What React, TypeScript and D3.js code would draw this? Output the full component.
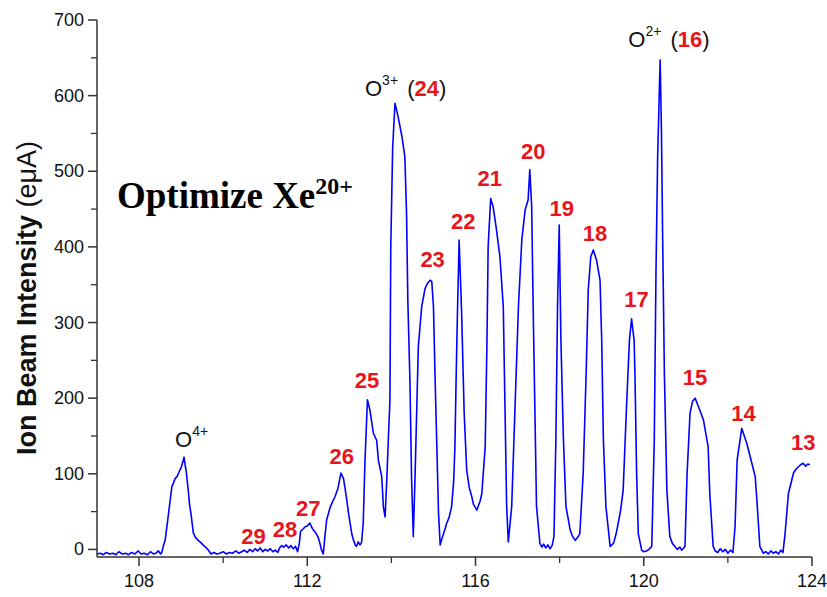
import React from 'react';
import * as d3 from 'd3';

// Beam current scan: [analyzer setting, ion beam intensity (eμA)]
const trace: [number, number][] = [
  [107.0, -6], [107.08, -5], [107.15, -7], [107.22, -4], [107.3, -6], [107.38, -5], [107.45, -7],
  [107.52, -3], [107.6, -6], [107.68, -5], [107.75, -7], [107.82, -4], [107.9, -6], [107.98, -2],
  [108.05, -6], [108.12, -5], [108.2, -7], [108.27, -3], [108.34, -6], [108.4, -5], [108.46, -2],
  [108.51, -6], [108.54, -4],
  // O4+
  [108.58, 5], [108.62, 12], [108.68, 38], [108.74, 65], [108.78, 83], [108.82, 88], [108.86, 94],
  [108.9, 96], [108.94, 101], [108.97, 105], [109.0, 108], [109.03, 114], [109.07, 122], [109.1, 110],
  [109.12, 104], [109.17, 78], [109.2, 60], [109.24, 45], [109.29, 22], [109.34, 16], [109.41, 12],
  [109.47, 9], [109.52, 6], [109.58, 3], [109.65, -1], [109.71, -6],
  [109.78, -4], [109.85, -6], [109.92, -5], [110.0, -3], [110.08, -6], [110.15, -4], [110.22, -5],
  [110.3, -2], [110.37, -5], [110.44, -3], [110.5, -1], [110.57, -4], [110.63, 0], [110.7, -3],
  [110.76, 1], [110.82, -2], [110.88, 2], [110.94, -3], [111.0, 0], [111.06, -2], [111.12, 1],
  [111.18, -3], [111.24, -1], [111.3, -4],
  // 28, 27, 26, 25
  [111.34, 2], [111.39, 5], [111.44, 3], [111.5, 6], [111.56, 2], [111.61, 5], [111.67, 1],
  [111.72, 4], [111.77, -3],
  [111.81, 8], [111.84, 24], [111.9, 27], [111.95, 30], [112.0, 31], [112.06, 35], [112.1, 30],
  [112.14, 26], [112.2, 22], [112.26, 16], [112.3, 8], [112.34, -1], [112.38, -6],
  [112.42, 18], [112.46, 39], [112.54, 55], [112.6, 63], [112.66, 70], [112.73, 81], [112.8, 101],
  [112.86, 94], [112.9, 80], [112.94, 65], [112.98, 48], [113.02, 34], [113.06, 20], [113.1, 12],
  [113.14, 6], [113.17, 4], [113.21, 10], [113.25, 6], [113.29, 9],
  [113.33, 35], [113.37, 114], [113.43, 198], [113.49, 184], [113.57, 154], [113.65, 144],
  [113.69, 118], [113.77, 96], [113.81, 56], [113.85, 43],
  // O3+ (24)
  [113.89, 92], [113.93, 150], [113.965, 197], [113.985, 400], [114.03, 532], [114.085, 590],
  [114.16, 572], [114.25, 546], [114.32, 519], [114.36, 444], [114.39, 330], [114.44, 224],
  [114.48, 92], [114.52, 17],
  // 23, 22, 21
  [114.56, 92], [114.64, 268], [114.72, 321], [114.8, 345], [114.86, 352], [114.92, 356],
  [114.96, 354], [115.0, 321], [115.04, 224], [115.08, 136], [115.12, 48], [115.16, 6],
  [115.2, 14], [115.23, 19], [115.27, 26], [115.31, 34], [115.37, 42], [115.43, 56], [115.48, 90],
  [115.51, 136], [115.54, 230], [115.57, 312], [115.61, 409], [115.67, 312], [115.73, 180],
  [115.79, 105], [115.85, 82], [115.91, 70], [115.95, 60], [116.0, 55], [116.03, 52], [116.07, 58],
  [116.11, 64], [116.15, 74], [116.23, 136], [116.27, 268], [116.3, 400], [116.36, 464],
  [116.42, 453], [116.5, 422], [116.58, 387],
  // 20, 19, 18, 17
  [116.66, 321], [116.7, 189], [116.74, 57], [116.78, 10], [116.86, 57], [116.94, 189],
  [117.02, 321], [117.1, 409], [117.18, 449], [117.25, 462], [117.29, 502], [117.335, 453],
  [117.37, 321], [117.41, 189], [117.45, 57], [117.53, 8], [117.58, 3], [117.62, 7], [117.67, 2],
  [117.72, 6], [117.77, 1], [117.82, 5], [117.865, 17], [117.91, 145], [117.95, 321], [117.99, 429],
  [118.03, 277], [118.09, 145], [118.15, 57], [118.25, 26], [118.3, 18], [118.37, 12], [118.43, 16],
  [118.48, 21], [118.56, 101], [118.63, 233], [118.68, 343], [118.74, 387], [118.8, 396],
  [118.88, 382], [118.96, 356], [119.0, 277], [119.04, 145], [119.1, 57], [119.2, 4], [119.24, 6],
  [119.28, 8], [119.34, 20], [119.39, 34], [119.45, 52], [119.51, 78], [119.59, 189], [119.66, 277],
  [119.71, 305], [119.77, 277], [119.79, 233], [119.83, 101], [119.87, 21], [119.95, -1],
  [120.0, -3], [120.07, -2], [120.12, 0], [120.19, 4],
  // O2+ (16)
  [120.25, 145], [120.29, 365], [120.33, 519], [120.37, 607], [120.39, 647], [120.42, 555],
  [120.45, 409], [120.49, 233], [120.55, 78], [120.62, 17], [120.68, 8], [120.74, 4], [120.8, 0],
  [120.86, 3], [120.9, -1], [120.95, 2], [120.98, 4],
  // 15, 14, 13
  [121.03, 100], [121.1, 180], [121.16, 196], [121.22, 200], [121.3, 189], [121.36, 180],
  [121.42, 171], [121.53, 136], [121.57, 74], [121.65, 4], [121.7, -2], [121.76, -4], [121.82, 1],
  [121.88, -3], [121.94, 0], [122.0, -5], [122.06, -1], [122.12, -4],
  [122.17, 30], [122.22, 118], [122.33, 160], [122.45, 140], [122.57, 114], [122.65, 96],
  [122.69, 65], [122.76, 4], [122.84, -5], [122.9, -3], [122.96, -6], [123.02, -2], [123.08, -5],
  [123.14, -3], [123.2, -6], [123.26, -1], [123.31, -4],
  [123.36, 21], [123.44, 74], [123.56, 101], [123.62, 106], [123.67, 109], [123.73, 112],
  [123.79, 114], [123.85, 110], [123.9, 113], [123.95, 112],
];

// Xe charge-state annotations: label, centre position in data units
const chargeStates = ['29', '28', '27', '26', '25', '23', '22', '21', '20', '19', '18', '17', '15', '14', '13'];
const chargeX = [110.72, 111.47, 112.02, 112.82, 113.42, 114.98, 115.71, 116.34, 117.37, 118.05, 118.84, 119.83, 121.22, 122.37, 123.79];
const chargeY = [17, 26, 54, 123, 223, 383, 433, 491, 526, 451, 418, 330, 227, 180, 142];

// Oxygen ion annotations (left edge of "O", baseline) with optional Xe charge in brackets
const oxygenCharge = ['4+', '3+', '2+'];
const oxygenXeCharge = ['', '24', '16'];
const oxygenX = [108.855, 113.372, 119.632];
const oxygenY = [136, 600, 664];

const xTicks = [108, 112, 116, 120, 124];
const xMinorTicks = [110, 114, 118, 122];
const yTicks = [0, 100, 200, 300, 400, 500, 600, 700];
const yMinorTicks = [50, 150, 250, 350, 450, 550, 650];

const W = 827;
const H = 597;
const SANS = "'Liberation Sans', Arial, sans-serif";
const SERIF = "'Liberation Serif', 'Times New Roman', serif";

export default function App() {
  const x = d3.scaleLinear().domain([107, 124]).range([97, 812]);
  const y = d3.scaleLinear().domain([-10, 700]).range([557, 20]);
  const line = d3
    .line<[number, number]>()
    .x((d) => x(d[0]))
    .y((d) => y(d[1]));

  const axisColor = '#333';

  return (
    <svg
      width={W}
      height={H}
      viewBox={`0 0 ${W} ${H}`}
      style={{ position: 'absolute', left: 0, top: 0, background: '#fff' }}
    >
      <rect width={W} height={H} fill="#fff" />

      {/* spectrum */}
      <path d={line(trace) ?? ''} fill="none" stroke="#0000ff" strokeWidth={1.6} strokeLinejoin="round" />

      {/* y axis */}
      <line x1={x(107)} x2={x(107)} y1={y(700)} y2={y(-10)} stroke={axisColor} strokeWidth={1.5} />
      {yTicks.map((t) => (
        <g key={`y${t}`}>
          <line x1={x(107) - 9} x2={x(107)} y1={y(t)} y2={y(t)} stroke={axisColor} strokeWidth={1.5} />
          <text
            x={x(107) - 13}
            y={y(t)}
            textAnchor="end"
            dominantBaseline="central"
            fontFamily={SANS}
            fontSize={18}
            fill="#111"
          >
            {t}
          </text>
        </g>
      ))}
      {yMinorTicks.map((t) => (
        <line key={`ym${t}`} x1={x(107) - 6} x2={x(107)} y1={y(t)} y2={y(t)} stroke={axisColor} strokeWidth={1.3} />
      ))}

      {/* x axis */}
      <line x1={x(107)} x2={x(124)} y1={y(-10)} y2={y(-10)} stroke={axisColor} strokeWidth={1.5} />
      {xTicks.map((t) => (
        <g key={`x${t}`}>
          <line x1={x(t)} x2={x(t)} y1={y(-10)} y2={y(-10) + 9} stroke={axisColor} strokeWidth={1.5} />
          <text x={x(t)} y={y(-10) + 30} textAnchor="middle" fontFamily={SANS} fontSize={18} fill="#111">
            {t}
          </text>
        </g>
      ))}
      {xMinorTicks.map((t) => (
        <line key={`xm${t}`} x1={x(t)} x2={x(t)} y1={y(-10)} y2={y(-10) + 6} stroke={axisColor} strokeWidth={1.3} />
      ))}

      {/* y axis title */}
      <text
        transform="translate(27,298) rotate(-90)"
        textAnchor="middle"
        dominantBaseline="central"
        fontFamily={SANS}
        fontSize={27}
        fill="#111"
      >
        <tspan fontWeight="bold">Ion Beam Intensity</tspan>
        <tspan> (eμA)</tspan>
      </text>

      {/* panel title */}
      <text x={117} y={208} fontFamily={SERIF} fontWeight="bold" fontSize={37} fill="#000">
        Optimize Xe
        <tspan fontSize={24} dy={-14}>
          20+
        </tspan>
      </text>

      {/* Xe charge states */}
      {chargeStates.map((c, i) => (
        <text
          key={`c${c}`}
          x={x(chargeX[i])}
          y={y(chargeY[i])}
          textAnchor="middle"
          dominantBaseline="central"
          fontFamily={SANS}
          fontWeight="bold"
          fontSize={22}
          fill="#e8141b"
        >
          {c}
        </text>
      ))}

      {/* oxygen peaks */}
      {oxygenCharge.map((q, i) => (
        <text key={`o${q}`} x={x(oxygenX[i])} y={y(oxygenY[i])} fontFamily={SANS} fontSize={22} fill="#111">
          O
          <tspan fontSize={14} dy={-11}>
            {q}
          </tspan>
          {oxygenXeCharge[i] && (
            <>
              <tspan dy={11} dx={3}>
                {' ('}
              </tspan>
              <tspan fontWeight="bold" fill="#e8141b">
                {oxygenXeCharge[i]}
              </tspan>
              <tspan>)</tspan>
            </>
          )}
        </text>
      ))}
    </svg>
  );
}
